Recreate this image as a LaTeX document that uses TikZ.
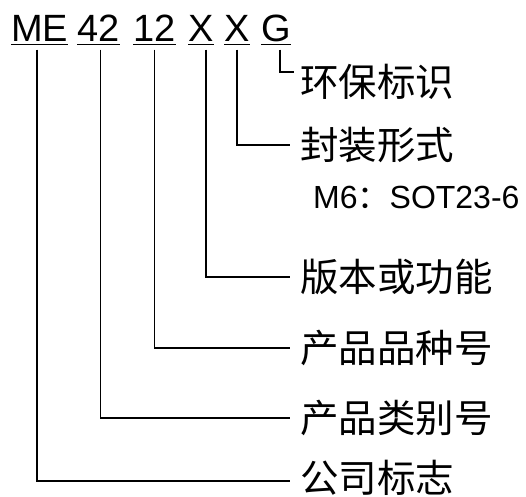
\documentclass[tikz,border=0pt]{standalone}
\usepackage{fontspec}
\setmainfont{Liberation Sans}
\newfontfamily\cjk{Noto Sans CJK SC}
\usetikzlibrary{positioning}
\tikzstyle{code} = [inner sep=0pt, anchor=base west, font=\fontsize{38}{40}\selectfont]
\tikzstyle{desc} = [inner xsep=10pt, inner ysep=0pt, anchor=west, font=\cjk\fontsize{38.5}{40}\selectfont]
\tikzstyle{note} = [inner sep=0pt, anchor=base west, font=\fontsize{32}{34}\selectfont]
\tikzstyle{wire} = [line width=1.6pt]
\tikzstyle{uline} = [line width=1.8pt]

\begin{document}
\begin{tikzpicture}[x=1pt, y=-1pt]
                        \useasboundingbox (0,0) rectangle (526,496);
                        % part number
                        \node[code](me) at (11,41) {ME};
                        \node[code](cat) at (77,41) {42};
                        \node[code](kind) at (133,41) {12};
                        \node[code](ver) at (188,41) {X};
                        \node[code](pkg) at (224,41) {X};
                        \node[code](eco) at (261,41) {G};
                        \foreach \n in {me,cat,kind,ver,pkg,eco}
                            \draw[uline] ([yshift=-3.5pt]\n.base west) -- ([yshift=-3.5pt]\n.base east);

                        % meanings
                        \node[desc](leco) at (290,82) {环保标识};
                        \node[desc](lpkg) at (290,145) {封装形式};
                        \node[note](lnote) at (313,208) {M6\makebox[32pt]{\cjk ：}SOT23-6};
                        \node[desc](lver) at (290,277) {版本或功能};
                        \node[desc](lkind) at (290,348) {产品品种号};
                        \node[desc](lcls) at (290,418) {产品类别号};
                        \node[desc](lcom) at (290,478) {公司标志};

                        \foreach \s/\t/\dx/\dy in {me/lcom/-3/-3, cat/lcls/2/0, kind/lkind/0/0, ver/lver/5/0, pkg/lpkg/0/0}
                            \draw[wire] ([xshift=\dx pt, yshift=-8.5pt]\s.base) |- ([yshift=\dy pt]\t.west);
                        \draw[wire] ([xshift=4pt, yshift=-8.5pt]eco.base) |- ([xshift=4pt, yshift=10pt]leco.west);
                    \end{tikzpicture}
\end{document}
